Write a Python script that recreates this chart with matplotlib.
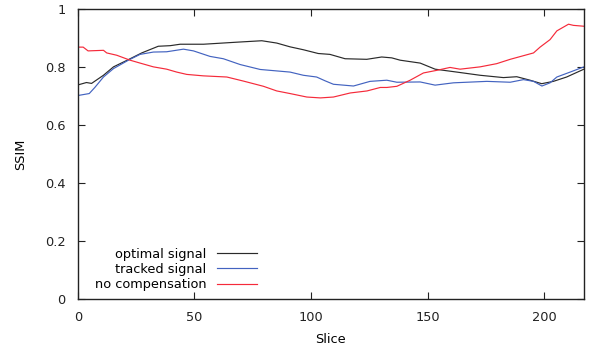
import matplotlib
matplotlib.use("Agg")
from matplotlib import pyplot as plt

# values
opt_x = [0.6, 3.7, 5.9, 11, 15.3, 21.7, 27.4, 34.5, 39.6, 43.9, 53.9, 68.1, 78.9, 85.3,
	91, 96.7, 103.1, 108.1, 114.6, 123.9, 130.3, 134.6, 138.2, 146.8, 153.2, 162.5,
	172.5, 182.5, 188.2, 193.9, 198.9, 203.9, 209.6, 217]
opt_y = [0.739, 0.746, 0.743, 0.771, 0.800, 0.825, 0.848, 0.871, 0.873, 0.878, 0.878, 0.885,
	0.890, 0.882, 0.869, 0.859, 0.846, 0.843, 0.828, 0.826, 0.834, 0.831, 0.823, 0.813,
	0.792, 0.782, 0.771, 0.763, 0.766, 0.754, 0.742, 0.750, 0.765, 0.792]

trk_x = [0.6, 4.9, 7.3, 11, 15.3, 21.7, 26.7, 32.4, 38.1, 45.3, 49.6, 56.7, 62.4, 69.6,
	78.2, 85.3, 91, 96.7, 102.4, 106, 109.6, 118.2, 125.3, 132.5, 136.8, 146.8, 153.2,
	161.1, 175.4, 185.4, 191.1, 195.4, 199, 202.5, 205.4, 211.1, 217]
trk_y = [0.702, 0.708, 0.729, 0.765, 0.794, 0.823, 0.843, 0.851, 0.852, 0.861, 0.855, 0.836,
	0.828, 0.808, 0.791, 0.786, 0.782, 0.771, 0.765, 0.752, 0.740, 0.734, 0.750, 0.754,
	0.747, 0.748, 0.737, 0.745, 0.750, 0.747, 0.756, 0.750, 0.734, 0.745, 0.765, 0.782, 0.800]

nc_x = [0.6, 2.3, 4.4, 11, 12.4, 16.7, 22.4, 26.7, 32.4, 38.1, 42.4, 46.7, 53.8, 63.9,
	71, 79.6, 85.3, 91, 98.2, 104, 109.6, 116.8, 124, 129.7, 132.5, 136.8, 142.5,
	148.2, 153.9, 159.6, 163.9, 172.5, 179.6, 185.4, 195.4, 198.2, 202.5, 205.4,
	210.4, 212.5, 217]
nc_y = [0.868, 0.868, 0.855, 0.857, 0.848, 0.840, 0.823, 0.813, 0.800, 0.792, 0.782, 0.774,
	0.769, 0.765, 0.751, 0.733, 0.717, 0.708, 0.696, 0.693, 0.696, 0.710, 0.717, 0.729,
	0.729, 0.733, 0.754, 0.779, 0.788, 0.798, 0.792, 0.800, 0.811, 0.826, 0.848, 0.868,
	0.894, 0.924, 0.947, 0.943, 0.940]

labels = ["optimal signal", "tracked signal", "no compensation"]
colors = ["#2a2a2a", "#4363c0", "#f52a3a"]

fig = plt.figure(figsize=(5.94, 3.53), dpi=100)
ax = fig.add_axes([0.131, 0.153, 0.852, 0.822])

ax.plot(opt_x, opt_y, color=colors[0], lw=0.85, label=labels[0])
ax.plot(trk_x, trk_y, color=colors[1], lw=0.85, label=labels[1])
ax.plot(nc_x, nc_y, color=colors[2], lw=0.85, label=labels[2])

ax.set_xlim(0, 217)
ax.set_ylim(0, 1)
ax.set_xticks([0, 50, 100, 150, 200])
ax.set_yticks([0, 0.2, 0.4, 0.6, 0.8, 1])
ax.set_yticklabels(["0", "0.2", "0.4", "0.6", "0.8", "1"])
ax.tick_params(direction="in", top=True, right=True, length=5, width=0.8,
	labelsize=9.3, pad=9, colors="#222222")
for s in ax.spines.values():
	s.set_linewidth(1.0)
	s.set_color("#222222")

ax.set_xlabel("Slice", fontsize=9.3, labelpad=6)
ax.set_ylabel("SSIM", fontsize=9.3, labelpad=13)

ax.legend(loc="lower right", bbox_to_anchor=(0.366, 0.005), frameon=False,
	markerfirst=False, borderpad=0, handlelength=3.1, handletextpad=0.8,
	labelspacing=0.16, fontsize=9.3)

fig.savefig("out.png", dpi=100)
plt.close()
